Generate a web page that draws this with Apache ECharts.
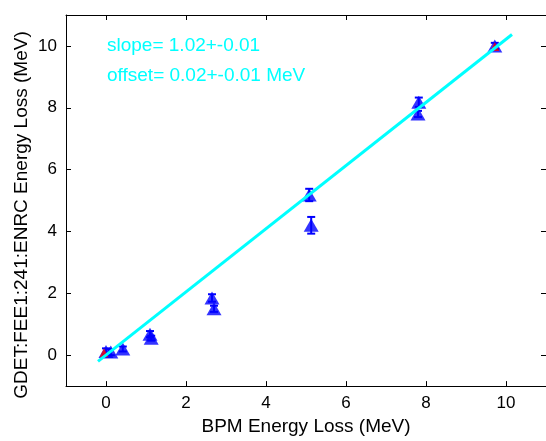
<!DOCTYPE html>
<html>
<head>
<meta charset="utf-8">
<script src="https://cdn.jsdelivr.net/npm/echarts@6/dist/echarts.min.js"></script>
<style>html,body{margin:0;padding:0;background:#fff;}#c{width:546px;height:441px;}</style>
</head>
<body>
<div id="c"></div>
<script>
// Measured data (BPM energy loss vs GDET energy loss), MeV
var bpmX   = [0.0, 0.12, 0.42, 1.10, 1.13, 2.65, 2.70, 5.08, 5.13, 7.82, 7.80, 9.72];
var gdetY  = [0.12, 0.10, 0.20, 0.68, 0.55, 1.85, 1.50, 5.18, 4.20, 8.18, 7.80, 10.00];
var gdetErr= [0.10, 0.10, 0.08, 0.10, 0.08, 0.12, 0.10, 0.20, 0.27, 0.15, 0.10, 0.10];
// Red reference points
var redX = [-0.05, 9.72];
var redY = [0.08, 9.98];
// Fit line endpoints
var fitX = [-0.2, 10.15];
var fitY = [-0.2, 10.37];
// Axis ticks
var xTicks = [0, 2, 4, 6, 8, 10];
var yTicks = [0, 2, 4, 6, 8, 10];
var slopeText = 'slope= 1.02+-0.01';
var offsetText = 'offset= 0.02+-0.01 MeV';
var xName = 'BPM Energy Loss (MeV)';
var yName = 'GDET:FEE1:241:ENRC Energy Loss (MeV)';

var FONT = '"Liberation Sans", Arial, sans-serif';
var chart = echarts.init(document.getElementById('c'), null, {renderer: 'canvas'});

var pts = bpmX.map(function (x, i) { return [x, gdetY[i]]; });
var errs = bpmX.map(function (x, i) { return [x, gdetY[i] - gdetErr[i], gdetY[i] + gdetErr[i]]; });
var reds = redX.map(function (x, i) { return [x, redY[i]]; });
var fit = fitX.map(function (x, i) { return [x, fitY[i]]; });

function axisCommon(ticks, showLabel) {
  return {
    type: 'value', min: -1, max: 11,
    axisLine: {show: true, onZero: false, lineStyle: {color: '#000', width: 1}},
    axisTick: {show: true, inside: true, length: 5, customValues: ticks, lineStyle: {color: '#000'}},
    axisLabel: {show: showLabel, customValues: ticks, color: '#000', fontSize: 17, fontFamily: FONT, margin: 9},
    splitLine: {show: false}
  };
}

var xa0 = axisCommon(xTicks, true); xa0.position = 'bottom';
xa0.name = xName; xa0.nameLocation = 'middle'; xa0.nameGap = 28;
xa0.nameTextStyle = {color: '#000', fontSize: 19, fontFamily: FONT};
var xa1 = axisCommon(xTicks, false); xa1.position = 'top';
var ya0 = axisCommon(yTicks, true); ya0.position = 'left';
var ya1 = axisCommon(yTicks, false); ya1.position = 'right';

chart.setOption({
  animation: false,
  backgroundColor: '#fff',
  grid: {left: 66, right: 0, top: 15, bottom: 49, containLabel: false},
  xAxis: [xa0, xa1],
  yAxis: [ya0, ya1],
  graphic: [
    {type: 'text', x: 22, y: 215, rotation: Math.PI / 2,
     style: {text: yName, fill: '#000', font: '19px ' + FONT, textAlign: 'center', textVerticalAlign: 'middle'}},
    {type: 'text', left: 107, top: 36,
     style: {text: slopeText, fill: '#00ffff', font: '19px ' + FONT}},
    {type: 'text', left: 107, top: 66,
     style: {text: offsetText, fill: '#00ffff', font: '19px ' + FONT}}
  ],
  series: [
    {
      type: 'custom', name: 'err', data: errs, z: 2,
      renderItem: function (params, api) {
        var lo = api.coord([api.value(0), api.value(1)]);
        var hi = api.coord([api.value(0), api.value(2)]);
        var w = 4;
        var st = {stroke: '#0000ff', lineWidth: 2};
        return {type: 'group', children: [
          {type: 'line', shape: {x1: lo[0], y1: lo[1], x2: hi[0], y2: hi[1]}, style: st},
          {type: 'line', shape: {x1: lo[0] - w, y1: lo[1], x2: lo[0] + w, y2: lo[1]}, style: st},
          {type: 'line', shape: {x1: hi[0] - w, y1: hi[1], x2: hi[0] + w, y2: hi[1]}, style: st}
        ]};
      }
    },
    {type: 'scatter', name: 'data', data: pts, symbol: 'triangle', symbolSize: [15, 13],
     itemStyle: {color: '#0000ff'}, z: 3},
    {type: 'scatter', name: 'ref', data: reds, symbol: 'triangle', symbolSize: [9, 9],
     itemStyle: {color: '#ff0000'}, z: 4},
    {type: 'line', name: 'fit', data: fit, showSymbol: false, symbol: 'none',
     lineStyle: {color: '#00ffff', width: 3}, z: 5}
  ]
});
</script>
</body>
</html>
